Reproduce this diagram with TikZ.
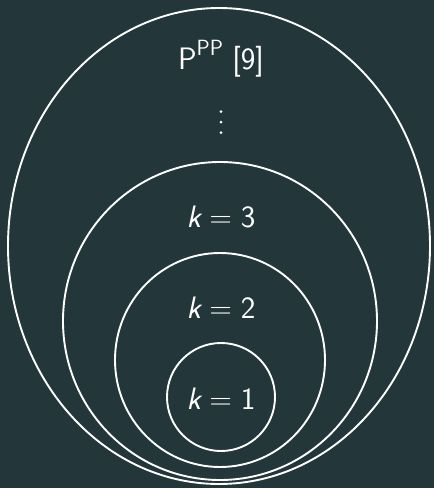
\documentclass[tikz,border=0pt]{standalone}
\usepackage{fontspec}
\definecolor{bgc}{RGB}{35,54,58}
\tikzset{
  ring/.style={draw=white, line width=1.9pt},
  lbl/.style={text=white, font=\fontsize{31}{37}\selectfont\sffamily, inner sep=0pt, anchor=base}
}
\newcommand{\kval}[1]{{\itshape k}\hspace{0.28em}=\hspace{0.28em}#1}
\begin{document}
\begin{tikzpicture}[x=1pt,y=-1pt]
\fill[bgc] (0,0) rectangle (434,488);
\useasboundingbox (0,0) rectangle (434,488);
\draw[ring] (219,246) ellipse [x radius=211pt, y radius=238pt];
\draw[ring] (220,321) ellipse [x radius=157pt, y radius=159pt];
\draw[ring] (220,360) ellipse [x radius=105pt, y radius=107pt];
\draw[ring] (221,397) circle [radius=54pt];
\node[lbl] (ppp) at (221,69) {P\raisebox{0.42em}{\fontsize{22}{26}\selectfont PP}\hspace{0.3em}[9]};
\coordinate (dots) at (221,122);
\fill[white] ([yshift=-10.5pt]dots) circle [radius=1.5pt];
\fill[white] (dots) circle [radius=1.5pt];
\fill[white] ([yshift=10.5pt]dots) circle [radius=1.5pt];
\node[lbl] (k3) at (221,227) {\kval{3}};
\node[lbl] (k2) at (221,318) {\kval{2}};
\node[lbl] (k1) at (221,409) {\kval{1}};
\end{tikzpicture}
\end{document}
